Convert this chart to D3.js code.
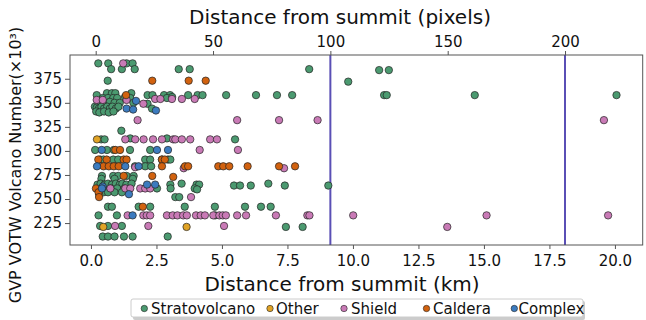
<!DOCTYPE html>
<html>
<head>
<meta charset="utf-8">
<script src="https://cdn.jsdelivr.net/npm/d3@7"></script>
<style>
  body { margin: 0; background: #fff; }
  svg { display: block; font-family: 'DejaVu Sans', sans-serif; }
</style>
</head>
<body>
<svg id="chart" width="646" height="320"></svg>
<script>
// [distance from summit (km), GVP volcano number (x10^3)]
const stratovolcano = [
  [0.28,391],[0.66,391],[1.36,391],[1.59,391],
  [0.77,385],[1.18,385],[1.67,385],[3.35,385],[3.77,385],[8.33,385],[11.0,384],[11.37,384],
  [0.64,373],[9.82,372],
  [0.22,358],[0.61,360],[0.80,360],[0.93,360],[1.54,360],[2.16,358],[2.35,358],[2.79,358],[3.02,358],
  [3.71,358],[4.07,358],[4.26,358],[5.16,358],[6.30,358],[7.10,358],[7.68,358],[11.19,358],[11.29,358],
  [14.65,358],[20.06,358],
  [0.45,355],[0.65,355],[0.85,355],[1.0,355],[1.3,356],[1.5,355],[2.9,355],[3.1,356],
  [0.35,350],[0.55,350],[0.72,351],[0.9,350],[1.1,350],[1.62,350],[2.16,349],
  [0.15,346],[0.22,345],[0.3,344],[0.4,346],[0.5,344],[0.62,346],[0.72,344],[0.82,346],[0.95,344],
  [1.05,346],[2.33,344],
  [0.2,341],[0.32,340],[0.5,341],[0.68,340],[0.86,341],
  [1.16,321],
  [0.39,312],[0.52,312],[1.50,313],[2.90,313],[5.5,312],
  [0.16,301],[0.61,301],[0.87,301],[1.49,301],[2.26,301],
  [0.35,291],[0.48,291],[0.85,291],[1.04,291],[2.07,291],[2.26,291],[2.71,291],[2.94,291],[3.03,291],
  [1.68,284],[2.07,284],[2.30,284],
  [0.42,274],[0.85,274],[1.04,274],[1.36,274],[1.63,274],
  [0.4,271],[0.9,271],[1.6,271],
  [0.25,265],[0.37,266],[0.52,265],[0.65,266],[0.8,265],[0.95,266],[1.1,265],[1.2,266],[1.35,265],
  [1.55,266],[3.03,265],[3.46,266],[4.03,265],[4.13,265],
  [5.46,264],[5.69,264],[6.10,264],[6.77,266],[7.40,264],[9.06,264],
  [0.45,261],[0.75,261],[1.0,261],[1.28,261],[2.52,261],[3.04,261],[3.96,261],[4.05,260],
  [0.48,257],[0.65,257],[0.90,257],[1.18,257],
  [3.22,252],[3.37,252],
  [0.65,242],[0.80,242],[1.82,242],[2.26,242],[3.58,242],[4.73,242],[5.88,242],[6.49,242],[6.86,242],
  [0.29,233],[0.99,233],[4.74,233],
  [0.35,222],[0.65,222],[1.18,222],[7.44,221],[8.08,221],
  [0.45,211],[0.65,211],[0.90,211],[1.26,211],[1.59,211],[2.93,211]
];
const other = [[0.23,312],[0.31,255],[0.47,221],[3.65,221]];
const shield = [
  [1.23,391],
  [0.22,353],[0.45,353],[1.36,353],[2.0,349],[2.45,354],[2.65,354],[3.09,354],[3.47,354],[3.96,354],
  [1.78,332],[5.58,332],[7.18,332],[8.65,332],[19.58,332],
  [1.31,312],[1.69,312],[2.01,312],[2.37,312],[2.71,312],[3.14,312],[3.22,312],[3.47,312],[3.79,312],
  [4.55,312],[4.81,312],
  [4.15,301],[5.61,301],
  [1.69,283],[3.54,282],[7.37,282],
  [0.74,261],[1.31,261],[1.50,261],[1.88,261],[2.07,261],[2.26,261],
  [3.82,252],
  [1.40,233],[2.0,233],[2.13,233],[2.26,233],[2.90,233],[3.12,233],[3.30,233],[3.52,233],[3.66,233],
  [4.01,233],[4.19,233],[4.35,233],[4.67,233],[4.90,233],[5.03,233],[5.15,233],[5.58,233],[5.92,233],
  [7.06,233],[8.26,233],[8.34,233],[10.01,233],[15.10,233],[19.74,233],
  [0.92,222],[2.19,222],[5.08,222],[13.6,221]
];
const caldera = [
  [2.34,373],[3.73,373],[4.38,373],
  [1.34,358],
  [0.93,301],[1.11,301],
  [0.28,291],[0.60,291],[1.25,291],[1.36,291],[2.71,291],[2.82,291],
  [0.48,284],[0.68,284],[0.87,284],[1.06,284],[2.71,284],[3.59,284],[3.71,284],[4.86,284],[5.05,284],
  [5.28,284],[5.98,284],[7.18,284],[7.79,284],
  [1.25,274],[2.34,274],[3.14,273],
  [0.19,261],[0.29,257],[0.31,252],
  [1.98,242]
];
const complex = [
  [1.72,352],[1.36,344],[1.61,343],[2.48,342],
  [0.41,301],[2.52,301],[2.94,301],
  [0.23,284],[1.31,284],[1.82,284],
  [2.14,265],[2.45,265],[0.45,263],
  [0.42,261],[1.45,255],[1.59,233]
];

const seriesNames = ['Stratovolcano', 'Other', 'Shield', 'Caldera', 'Complex'];
const seriesData = [stratovolcano, other, shield, caldera, complex];
const seriesColors = ['#4b9a70', '#e0a326', '#c97ab6', '#d2620f', '#3c7bbf'];

const kmTicks = d3.range(0, 20.01, 2.5);
const pixelTicks = [0, 50, 100, 150, 200];
const yTicks = [225, 250, 275, 300, 325, 350, 375];
const markerLines = [100, 200]; // pixels

const margin = { left: 70, right: 3.3, top: 55, bottom: 75 };
const W = 646, H = 320;

const svg = d3.select('#chart');

const x = d3.scaleLinear().domain([-0.8, 21.06]).range([margin.left, W - margin.right]);
const xTop = d3.scaleLinear().domain([-10.95, 233.1]).range([margin.left, W - margin.right]);
const y = d3.scaleLinear().domain([202.2, 399.7]).range([H - margin.bottom, margin.top]);

// vertical marker lines
svg.append('g')
  .selectAll('line')
  .data(markerLines)
  .enter()
  .append('line')
  .attr('x1', d => xTop(d))
  .attr('x2', d => xTop(d))
  .attr('y1', margin.top)
  .attr('y2', H - margin.bottom)
  .attr('stroke', '#5a4fb5')
  .attr('stroke-width', 2);

// points
seriesData.forEach((pts, i) => {
  svg.append('g')
    .selectAll('circle')
    .data(pts)
    .enter()
    .append('circle')
    .attr('cx', d => x(d[0]))
    .attr('cy', d => y(d[1]))
    .attr('r', 3.7)
    .attr('fill', seriesColors[i])
    .attr('stroke', '#222')
    .attr('stroke-width', 0.7);
});

// frame
svg.append('rect')
  .attr('x', margin.left)
  .attr('y', margin.top)
  .attr('width', W - margin.right - margin.left)
  .attr('height', H - margin.bottom - margin.top)
  .attr('fill', 'none')
  .attr('stroke', '#555')
  .attr('stroke-width', 1);

function styleAxis(g) {
  g.select('.domain').remove();
  g.selectAll('.tick line').attr('stroke', '#555');
  g.selectAll('.tick text').attr('fill', '#111').style('font-size', '15px').style('font-family', 'DejaVu Sans');
}

svg.append('g')
  .attr('transform', `translate(0,${H - margin.bottom})`)
  .call(d3.axisBottom(x).tickValues(kmTicks).tickFormat(d3.format('.1f')).tickSize(4).tickPadding(6))
  .call(styleAxis);

svg.append('g')
  .attr('transform', `translate(0,${margin.top})`)
  .call(d3.axisTop(xTop).tickValues(pixelTicks).tickFormat(d3.format('d')).tickSize(4).tickPadding(4))
  .call(styleAxis);

svg.append('g')
  .attr('transform', `translate(${margin.left},0)`)
  .call(d3.axisLeft(y).tickValues(yTicks).tickSize(5).tickPadding(3))
  .call(styleAxis);

// titles
svg.append('text')
  .attr('x', 340).attr('y', 24)
  .attr('text-anchor', 'middle')
  .style('font-size', '20px')
  .attr('fill', '#111')
  .text('Distance from summit (pixels)');

svg.append('text')
  .attr('x', 342).attr('y', 291)
  .attr('text-anchor', 'middle')
  .style('font-size', '20px')
  .attr('fill', '#111')
  .text('Distance from summit (km)');

svg.append('text')
  .attr('transform', 'translate(21,165) rotate(-90)')
  .attr('text-anchor', 'middle')
  .style('font-size', '16px')
  .attr('fill', '#111')
  .text('GVP VOTW Volcano Number(×10³)');

// legend
const legend = svg.append('g');
legend.append('rect')
  .attr('x', 133).attr('y', 301).attr('width', 452).attr('height', 19)
  .attr('rx', 2)
  .attr('fill', '#ccc');
legend.append('rect')
  .attr('x', 131).attr('y', 299).attr('width', 452).attr('height', 18)
  .attr('rx', 2)
  .attr('fill', '#fff')
  .attr('stroke', '#ccc');

const legendMarkX = [144.3, 270, 344, 426.5, 514.3];
const legendTextX = [151, 276, 351, 433, 518.5];
seriesNames.forEach((name, i) => {
  legend.append('circle')
    .attr('cx', legendMarkX[i]).attr('cy', 308.5).attr('r', 3.2)
    .attr('fill', seriesColors[i]).attr('stroke', '#222').attr('stroke-width', 0.6);
  legend.append('text')
    .attr('x', legendTextX[i]).attr('y', 314)
    .style('font-size', '15px')
    .attr('fill', '#111')
    .text(name);
});
</script>
</body>
</html>
